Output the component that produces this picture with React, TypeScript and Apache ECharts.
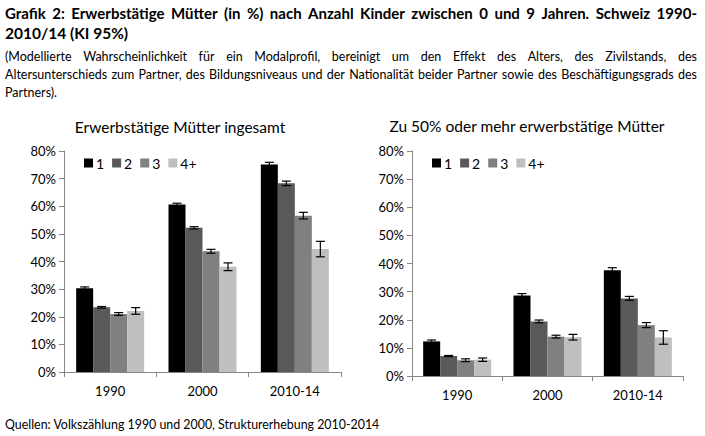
import React, { useEffect, useRef } from "react";
import * as echarts from "echarts";

const categories = ["1990", "2000", "2010-14"];
const seriesNames = ["1", "2", "3", "4+"];
const colors = ["#000000", "#595959", "#808080", "#bfbfbf"];

// Erwerbstätige Mütter ingesamt
const total1 = [30.3, 60.6, 75.1];
const total2 = [23.4, 52.2, 68.3];
const total3 = [21.0, 43.7, 56.6];
const total4 = [22.1, 38.1, 44.5];
const totalErr1 = [0.5, 0.5, 0.8];
const totalErr2 = [0.3, 0.4, 0.8];
const totalErr3 = [0.5, 0.7, 1.2];
const totalErr4 = [1.2, 1.4, 2.8];

// Zu 50% oder mehr erwerbstätige Mütter
const half1 = [12.3, 28.6, 37.6];
const half2 = [7.1, 19.4, 27.6];
const half3 = [5.6, 14.0, 18.1];
const half4 = [5.8, 13.8, 13.7];
const halfErr1 = [0.5, 0.7, 0.9];
const halfErr2 = [0.2, 0.5, 0.7];
const halfErr3 = [0.5, 0.5, 0.9];
const halfErr4 = [0.6, 1.0, 2.4];

const yTicks = [0, 10, 20, 30, 40, 50, 60, 70, 80];

const titleLine1 = "Grafik 2: Erwerbstätige Mütter (in %) nach Anzahl Kinder zwischen 0 und 9 Jahren. Schweiz 1990-";
const titleLine2 = "2010/14 (KI 95%)";
const subLine1 = "(Modellierte Wahrscheinlichkeit für ein Modalprofil, bereinigt um den Effekt des Alters, des Zivilstands, des";
const subLine2 = "Altersunterschieds zum Partner, des Bildungsniveaus und der Nationalität beider Partner sowie des Beschäftigungsgrads des";
const subLine3 = "Partners).";
const chartTitleLeft = "Erwerbstätige Mütter ingesamt";
const chartTitleRight = "Zu 50% oder mehr erwerbstätige Mütter";
const footer = "Quellen: Volkszählung 1990 und 2000, Strukturerhebung 2010-2014";

const FONT = "Lato";
const BW = 17;

function measure(text: string, size: number, weight: string) {
  const c = document.createElement("canvas");
  const ctx = c.getContext("2d")!;
  ctx.font = `${weight} ${size}px ${FONT}`;
  return ctx.measureText(text).width;
}

function justify(text: string, x0: number, x1: number, y: number, size: number, weight: string) {
  const words = text.split(" ");
  const widths = words.map((w) => measure(w, size, weight));
  const total = widths.reduce((a, b) => a + b, 0);
  const gap = (x1 - x0 - total) / (words.length - 1);
  let x = x0;
  return words.map((w, i) => {
    const el = {
      type: "text",
      x,
      y,
      style: {
        text: w,
        font: `${weight} ${size}px ${FONT}`,
        fill: "#000",
        textVerticalAlign: "middle",
      },
    };
    x += widths[i] + gap;
    return el;
  });
}

function plain(text: string, x: number, y: number, size: number, weight: string, align = "left") {
  return {
    type: "text",
    x,
    y,
    style: {
      text,
      font: `${weight} ${size}px ${FONT}`,
      fill: "#000",
      textAlign: align,
      textVerticalAlign: "middle",
    },
  };
}

export default function App() {
  const ref = useRef<HTMLDivElement>(null);
  useEffect(() => {
    const chart = echarts.init(ref.current!, null, { renderer: "svg" });
    const leftVals = [total1, total2, total3, total4];
    const leftErrs = [totalErr1, totalErr2, totalErr3, totalErr4];
    const rightVals = [half1, half2, half3, half4];
    const rightErrs = [halfErr1, halfErr2, halfErr3, halfErr4];

    const axisLine = { lineStyle: { color: "#868686", width: 1 } };
    const xAxisBase = {
      type: "category",
      data: categories,
      axisLine,
      axisTick: { show: true, length: 5, lineStyle: { color: "#868686" } },
      axisLabel: { color: "#000", fontSize: 13, fontFamily: FONT, margin: 12 },
    };
    const yAxisBase = {
      type: "value",
      min: yTicks[0],
      max: yTicks[yTicks.length - 1],
      interval: 10,
      axisLine: { show: true, ...axisLine },
      axisTick: { show: true, length: 5, lineStyle: { color: "#868686" } },
      splitLine: { show: false },
      axisLabel: { color: "#000", fontSize: 13, fontFamily: FONT, margin: 8, formatter: "{value}%" },
    };

    const series: any[] = [];
    [leftVals, rightVals].forEach((vals, gi) => {
      const errs = gi === 0 ? leftErrs : rightErrs;
      vals.forEach((v, si) => {
        series.push({
          type: "bar",
          name: seriesNames[si],
          xAxisIndex: gi,
          yAxisIndex: gi,
          data: v,
          barWidth: BW,
          barGap: "0%",
          itemStyle: { color: colors[si] },
        });
      });
      const errData: number[][] = [];
      vals.forEach((v, si) => {
        v.forEach((val, ci) => errData.push([ci, val, errs[si][ci], si]));
      });
      series.push({
        type: "custom",
        xAxisIndex: gi,
        yAxisIndex: gi,
        data: errData,
        encode: { x: 0, y: 1 },
        z: 10,
        silent: true,
        renderItem: (params: any, api: any) => {
          const ci = api.value(0);
          const val = api.value(1);
          const e = api.value(2);
          const s = api.value(3);
          const hi = api.coord([ci, val + e]);
          const lo = api.coord([ci, val - e]);
          const x = hi[0] + (s - 1.5) * BW;
          const st = { stroke: "#000", lineWidth: 1.2 };
          const cap = 4.5;
          return {
            type: "group",
            children: [
              { type: "line", shape: { x1: x, y1: hi[1], x2: x, y2: lo[1] }, style: st },
              { type: "line", shape: { x1: x - cap, y1: hi[1], x2: x + cap, y2: hi[1] }, style: st },
              { type: "line", shape: { x1: x - cap, y1: lo[1], x2: x + cap, y2: lo[1] }, style: st },
            ],
          };
        },
      });
    });

    const legendBase = {
      data: seriesNames,
      icon: "rect",
      itemWidth: 9,
      itemHeight: 9,
      itemGap: 8,
      textStyle: { color: "#000", fontSize: 14, fontFamily: FONT, padding: [0, 0, 0, -2] },
      selectedMode: false,
    };

    const graphic: any[] = [
      ...justify(titleLine1, 5, 697, 13, 15, "bold"),
      plain(titleLine2, 5, 33, 15.5, "bold"),
      ...justify(subLine1, 5, 697, 56, 12.5, "normal"),
      ...justify(subLine2, 5, 697, 74, 12.5, "normal"),
      plain(subLine3, 5, 92, 12.5, "normal"),
      plain(chartTitleLeft, 180, 127, 15.5, "normal", "center"),
      plain(chartTitleRight, 527, 126, 15.5, "normal", "center"),
      plain(footer, 5, 424, 12.4, "normal"),
    ];

    chart.setOption({
      animation: false,
      backgroundColor: "#fff",
      grid: [
        { left: 64, top: 151, width: 277, height: 221 },
        { left: 412, top: 151, width: 271, height: 225 },
      ],
      xAxis: [
        { ...xAxisBase, gridIndex: 0 },
        { ...xAxisBase, gridIndex: 1 },
      ],
      yAxis: [
        { ...yAxisBase, gridIndex: 0 },
        { ...yAxisBase, gridIndex: 1 },
      ],
      legend: [
        { ...legendBase, left: 79, top: 151 },
        { ...legendBase, left: 427, top: 151 },
      ],
      series,
      graphic,
    });
    return () => chart.dispose();
  }, []);
  return (
    <div
      ref={ref}
      style={{ position: "fixed", left: 0, top: 0, width: 705, height: 436, background: "#fff" }}
    />
  );
}
